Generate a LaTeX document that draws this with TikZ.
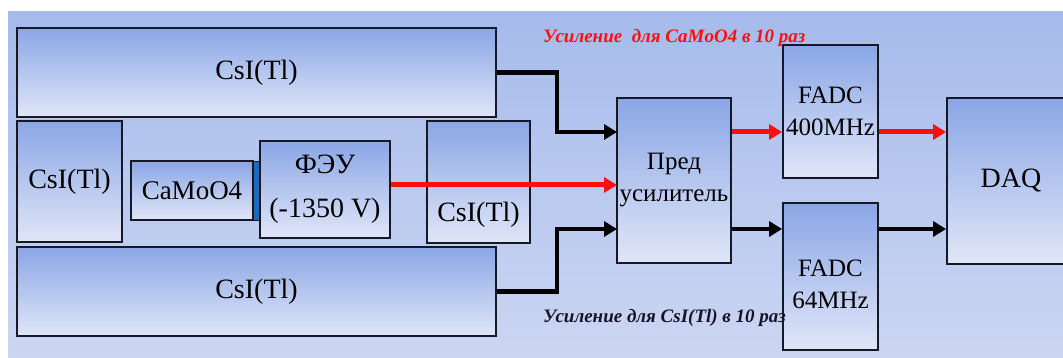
\documentclass[tikz,border=0pt]{standalone}
\usepackage{fontspec}
\setmainfont{LiberationSerif}[Extension=.ttf, UprightFont=*-Regular, BoldFont=*-Bold, ItalicFont=*-Italic, BoldItalicFont=*-BoldItalic]
\usetikzlibrary{arrows.meta}
\definecolor{bgtop}{RGB}{166,187,236}
\definecolor{bgbot}{RGB}{204,214,242}
\definecolor{boxtop}{RGB}{138,166,230}
\definecolor{boxbot}{RGB}{224,230,247}
\definecolor{edge}{RGB}{22,24,38}
\definecolor{stripblue}{RGB}{30,105,190}
\definecolor{sigred}{RGB}{250,16,16}
\definecolor{lbldark}{RGB}{20,20,40}
\begin{document}
\begin{tikzpicture}[x=1pt,y=-1pt,
  box/.style={draw=edge, line width=1.8pt, top color=boxtop, bottom color=boxbot,
    inner sep=0pt, align=center, font=\fontsize{28}{44}\selectfont},
  midfont/.style={font=\fontsize{25}{32}\selectfont},
  plain/.style={inner sep=0pt, align=center, font=\fontsize{28}{32}\selectfont},
  blk/.style={draw=black, line width=4.5pt, line join=miter},
  redw/.style={draw=sigred, line width=5pt},
  tip/.style={-{Triangle[length=13pt,width=15pt]}},
  gain/.style={anchor=west, inner sep=0pt, font=\fontsize{19}{22}\selectfont\bfseries\itshape}
]
\useasboundingbox (0,0) rectangle (1063,358);
\fill[white] (0,0) rectangle (1063,358);
\shade[top color=bgtop, bottom color=bgbot] (8,12) rectangle (1063,358);

% detector boxes
\node[box, minimum width=479pt, minimum height=89pt] (top) at (256.5,72.5) {CsI(Tl)};
\node[box, minimum width=105pt, minimum height=121pt] (left) at (69.5,181.5) {CsI(Tl)};
\node[box, minimum width=122pt, minimum height=59pt, font=\fontsize{27}{30}\selectfont] (camo) at (192,190.5) {CaMoO4};
\node[fill=stripblue, draw=edge, line width=0.6pt, inner sep=0pt, minimum width=7pt, minimum height=59pt] (coupler) at (256.5,190.5) {};
\node[box, minimum width=130pt, minimum height=97pt] (pmt) at (325,189.5) {ФЭУ\\(-1350 V)};
\node[box, minimum width=103pt, minimum height=122pt] (right) at (478.5,182) {};
\node[plain] (righttext) at (478.5,215) {CsI(Tl)};
\node[box, minimum width=479pt, minimum height=89pt] (bottom) at (256.5,291.5) {CsI(Tl)};

% electronics
\node[box, midfont, minimum width=114pt, minimum height=165pt] (pre) at (674,180.5) {Пред\\усилитель};
\node[box, midfont, minimum width=95pt, minimum height=133pt] (fadcA) at (830.5,111.5) {FADC\\400MHz};
\node[box, minimum width=95pt, minimum height=147pt] (fadcB) at (830.5,276.5) {};
\node[plain, font=\fontsize{25}{32}\selectfont] (fadcBtext) at (830.5,284) {FADC\\64MHz};
\node[box, minimum width=128pt, minimum height=166pt] (daq) at (1011,181) {DAQ};

% input points on the preamplifier
\coordinate (pinA) at (617,132);
\coordinate (pinR) at (617,185);
\coordinate (pinB) at (617,229);

% connectors
\draw[blk, tip] (top.east) -- (557,72.5) |- (pinA);
\draw[blk, tip] (bottom.east) -- (557,291.5) |- (pinB);
\draw[redw, tip] (pmt.east |- pinR) -- (pinR);
\draw[redw, tip] (pre.east |- pinA) -- (fadcA.west |- pinA);
\draw[redw, tip] (fadcA.east |- pinA) -- (daq.west |- pinA);
\draw[blk, tip] (pre.east |- pinB) -- (fadcB.west |- pinB);
\draw[blk, tip] (fadcB.east |- pinB) -- (daq.west |- pinB);

% gain labels
\node[gain, text=sigred] (gainA) at (543,38) {Усиление\ \ для CaMoO4 в 10 раз};
\node[gain, text=lbldark] (gainB) at (543,318) {Усиление для CsI(Tl) в 10 раз};
\end{tikzpicture}
\end{document}
